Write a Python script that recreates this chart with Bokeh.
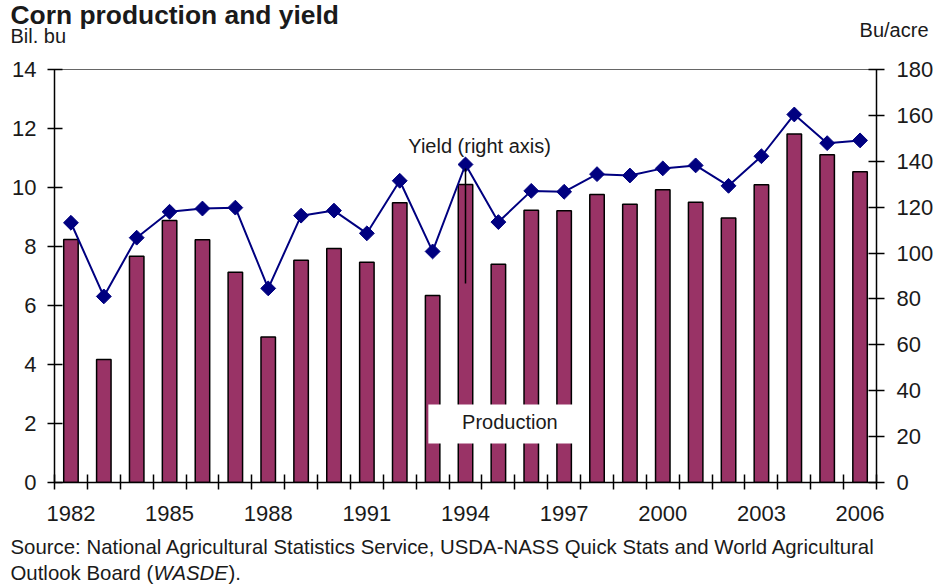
import numpy as np
from bokeh.plotting import figure
from bokeh.layouts import column
from bokeh.models import Range1d, LinearAxis, FixedTicker, Label, BoxAnnotation, ColumnDataSource
from bokeh.embed import file_html
from bokeh.resources import INLINE

# ---------------- data ----------------
years = list(range(1982, 2007))
production = [8.24, 4.17, 7.67, 8.88, 8.23, 7.13, 4.93, 7.53, 7.93, 7.47,
              9.48, 6.34, 10.10, 7.40, 9.23, 9.21, 9.76, 9.43, 9.92, 9.50,
              8.97, 10.09, 11.81, 11.11, 10.53]          # billion bushels
yield_bu = [113.2, 81.1, 106.7, 118.0, 119.4, 119.8, 84.6, 116.3, 118.5, 108.6,
            131.5, 100.7, 138.6, 113.5, 127.1, 126.7, 134.4, 133.8, 136.9, 138.2,
            129.3, 142.2, 160.4, 147.9, 149.1]           # bushels per acre
left_ticks = [0, 2, 4, 6, 8, 10, 12, 14]
right_ticks = [0, 20, 40, 60, 80, 100, 120, 140, 160, 180]
year_labels = [1982, 1985, 1988, 1991, 1994, 1997, 2000, 2003, 2006]

title_text = "Corn production and yield"
left_unit = "Bil. bu"
right_unit = "Bu/acre"
source_line1 = "Source: National Agricultural Statistics Service, USDA-NASS Quick Stats and World Agricultural"
source_line2 = ["Outlook Board (", "WASDE", " )."]

FONT = "Liberation Sans"
BAR = "#993366"
NAVY = "#000080"
TXT = "#1a1a1a"
W = 934


def text_strip(height):
    f = figure(width=W, height=height, output_backend="svg", toolbar_location=None,
               title=None, x_range=Range1d(0, W), y_range=Range1d(0, height),
               x_axis_type=None, y_axis_type=None, min_border=0, frame_align=False)
    f.outline_line_color = None
    f.xgrid.visible = False
    f.ygrid.visible = False
    f.background_fill_color = "white"
    f.border_fill_color = "white"
    return f


def add_text(f, x, y, text, size="20.4px", style="normal", align="left"):
    f.add_layout(Label(x=x, y=y, text=text, text_font=FONT, text_font_size=size,
                       text_font_style=style, text_align=align,
                       text_baseline="alphabetic", text_color=TXT))


# ---------- top strip: title and units ----------
top = text_strip(50)
add_text(top, 10, 36, title_text, size="26.4px", style="bold")
add_text(top, 10, 15, left_unit, size="20px")
add_text(top, 928, 21, right_unit, size="20px", align="right")

# ---------- main chart ----------
src = ColumnDataSource(dict(year=years, prod=production, yld=yield_bu))

p = figure(width=W, height=480, output_backend="svg", toolbar_location=None,
           title=None, min_border_left=54, min_border_right=58,
           min_border_top=19, min_border_bottom=48, frame_align=False,
           x_range=Range1d(years[0] - 0.5, years[-1] + 0.5),
           y_range=Range1d(left_ticks[0], left_ticks[-1]))
p.extra_y_ranges = {"yield": Range1d(right_ticks[0], right_ticks[-1])}
p.background_fill_color = "white"
p.border_fill_color = "white"
p.outline_line_color = "#666666"
p.outline_line_width = 1
p.xgrid.visible = False
p.ygrid.visible = False

la = p.left[0]
la.ticker = FixedTicker(ticks=left_ticks)
la.axis_line_color = "black"
la.axis_line_width = 1.5
la.major_tick_line_color = "black"
la.major_tick_line_width = 1.5
la.major_tick_in = 8
la.major_tick_out = 7
la.minor_tick_line_color = None
la.major_label_standoff = 11
la.major_label_text_font = FONT
la.major_label_text_font_size = "22px"
la.major_label_text_color = TXT

ba = p.below[0]
ba.ticker = FixedTicker(ticks=year_labels,
                        minor_ticks=[y - 0.5 for y in years] + [years[-1] + 0.5])
ba.axis_line_color = "black"
ba.axis_line_width = 1.5
ba.major_tick_in = 0
ba.major_tick_out = 0
ba.minor_tick_in = 8
ba.minor_tick_out = 7
ba.minor_tick_line_color = "black"
ba.minor_tick_line_width = 1.5
ba.major_label_standoff = 16
ba.major_label_text_font = FONT
ba.major_label_text_font_size = "22px"
ba.major_label_text_color = TXT

ra = LinearAxis(y_range_name="yield", ticker=FixedTicker(ticks=right_ticks))
ra.axis_line_color = "black"
ra.axis_line_width = 1.5
ra.major_tick_line_color = "black"
ra.major_tick_line_width = 1.5
ra.major_tick_in = 8
ra.major_tick_out = 8
ra.minor_tick_line_color = None
ra.major_label_standoff = 12
ra.major_label_text_font = FONT
ra.major_label_text_font_size = "22px"
ra.major_label_text_color = TXT
# keep the reserved panel width within the right border
ra.axis_label = " "
ra.axis_label_text_font_size = "1px"
ra.axis_label_standoff = -16
p.add_layout(ra, "right")

p.vbar(x="year", top="prod", width=0.44, source=src, fill_color=BAR,
       line_color="black", line_width=1.5)

p.line(x="year", y="yld", source=src, y_range_name="yield", line_color=NAVY, line_width=2)
p.scatter(x="year", y="yld", source=src, y_range_name="yield", marker="square",
          angle=np.pi / 4, size=10.5, fill_color=NAVY, line_color=NAVY)

# annotations inside the plot
p.add_layout(Label(x=1994.43, y=11.39, text="Yield (right axis)", text_align="center",
                   text_baseline="middle", text_font=FONT, text_font_size="20px",
                   text_color=TXT))
p.segment(x0=[1994.0], y0=[10.64], x1=[1994.0], y1=[6.75], line_color="black", line_width=1.5)

p.add_layout(BoxAnnotation(left=1992.87, right=1997.59, bottom=1.322, top=2.644,
                           fill_color="white", fill_alpha=1.0, line_color=None))
p.add_layout(Label(x=1995.35, y=2.05, text="Production", text_align="center",
                   text_baseline="middle", text_font=FONT, text_font_size="20px",
                   text_color=TXT))

# ---------- bottom strip: source ----------
bot = text_strip(56)
add_text(bot, 10, 40, source_line1)
add_text(bot, 10, 14, source_line2[0])
add_text(bot, 153, 14, source_line2[1], style="italic")
add_text(bot, 228, 14, source_line2[2])

layout = column(top, p, bot, spacing=0)
open("out.html", "w").write(file_html(layout, INLINE))
